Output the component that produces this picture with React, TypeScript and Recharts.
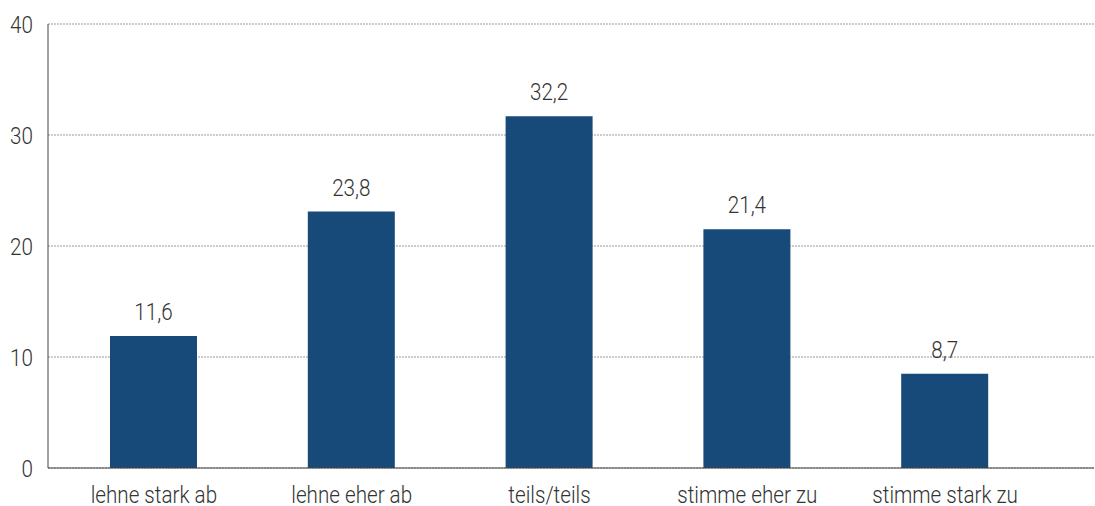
import { Bar, BarChart, CartesianGrid, LabelList, XAxis, YAxis } from 'recharts'

const categories = ['lehne stark ab', 'lehne eher ab', 'teils/teils', 'stimme eher zu', 'stimme stark zu']
const values = [11.9, 23.1, 31.7, 21.5, 8.5]
const labels = ['11,6', '23,8', '32,2', '21,4', '8,7']
const yTicks = [0, 10, 20, 30, 40]

const data = categories.map((name, i) => ({ name, value: values[i], label: labels[i] }))

const font = 'Roboto, sans-serif'
const squeeze = 'scale(0.86,1)'

function NarrowText({ x, y, anchor, dy, children }: any) {
  return (
    <g transform={`translate(${x},${y})`}>
      <text
        transform={squeeze}
        textAnchor={anchor}
        dy={dy}
        fill='#333'
        fontSize={24}
        fontWeight={300}
        fontFamily={font}
      >
        {children}
      </text>
    </g>
  )
}

const XTick = (p: any) => <NarrowText x={p.x} y={p.y} anchor='middle' dy='0.71em'>{p.payload.value}</NarrowText>
const YTick = (p: any) => <NarrowText x={p.x} y={p.y} anchor='end' dy='0.355em'>{p.payload.value}</NarrowText>
const TopLabel = (p: any) => (
  <NarrowText x={p.x + p.width / 2} y={p.y - 16} anchor='middle' dy={0}>{p.value}</NarrowText>
)

export default function App() {
  return (
    <div style={{ position: 'absolute', left: 0, top: 0 }}>
      <BarChart width={1095} height={506} data={data} margin={{ top: 24, right: 1, bottom: 0, left: 0 }}>
        <CartesianGrid vertical={false} stroke='#999' strokeDasharray='2 1' />
        <XAxis
          dataKey='name'
          height={38}
          tickLine={false}
          tickMargin={12}
          padding={{ left: 7, right: 50 }}
          axisLine={{ stroke: '#444' }}
          tick={XTick}
        />
        <YAxis
          width={48}
          domain={[0, 40]}
          ticks={yTicks}
          tickLine={false}
          tickMargin={9}
          axisLine={{ stroke: '#444' }}
          tick={YTick}
        />
        <Bar dataKey='value' fill='#174a78' barSize={87} isAnimationActive={false}>
          <LabelList dataKey='label' content={TopLabel} />
        </Bar>
      </BarChart>
    </div>
  )
}
